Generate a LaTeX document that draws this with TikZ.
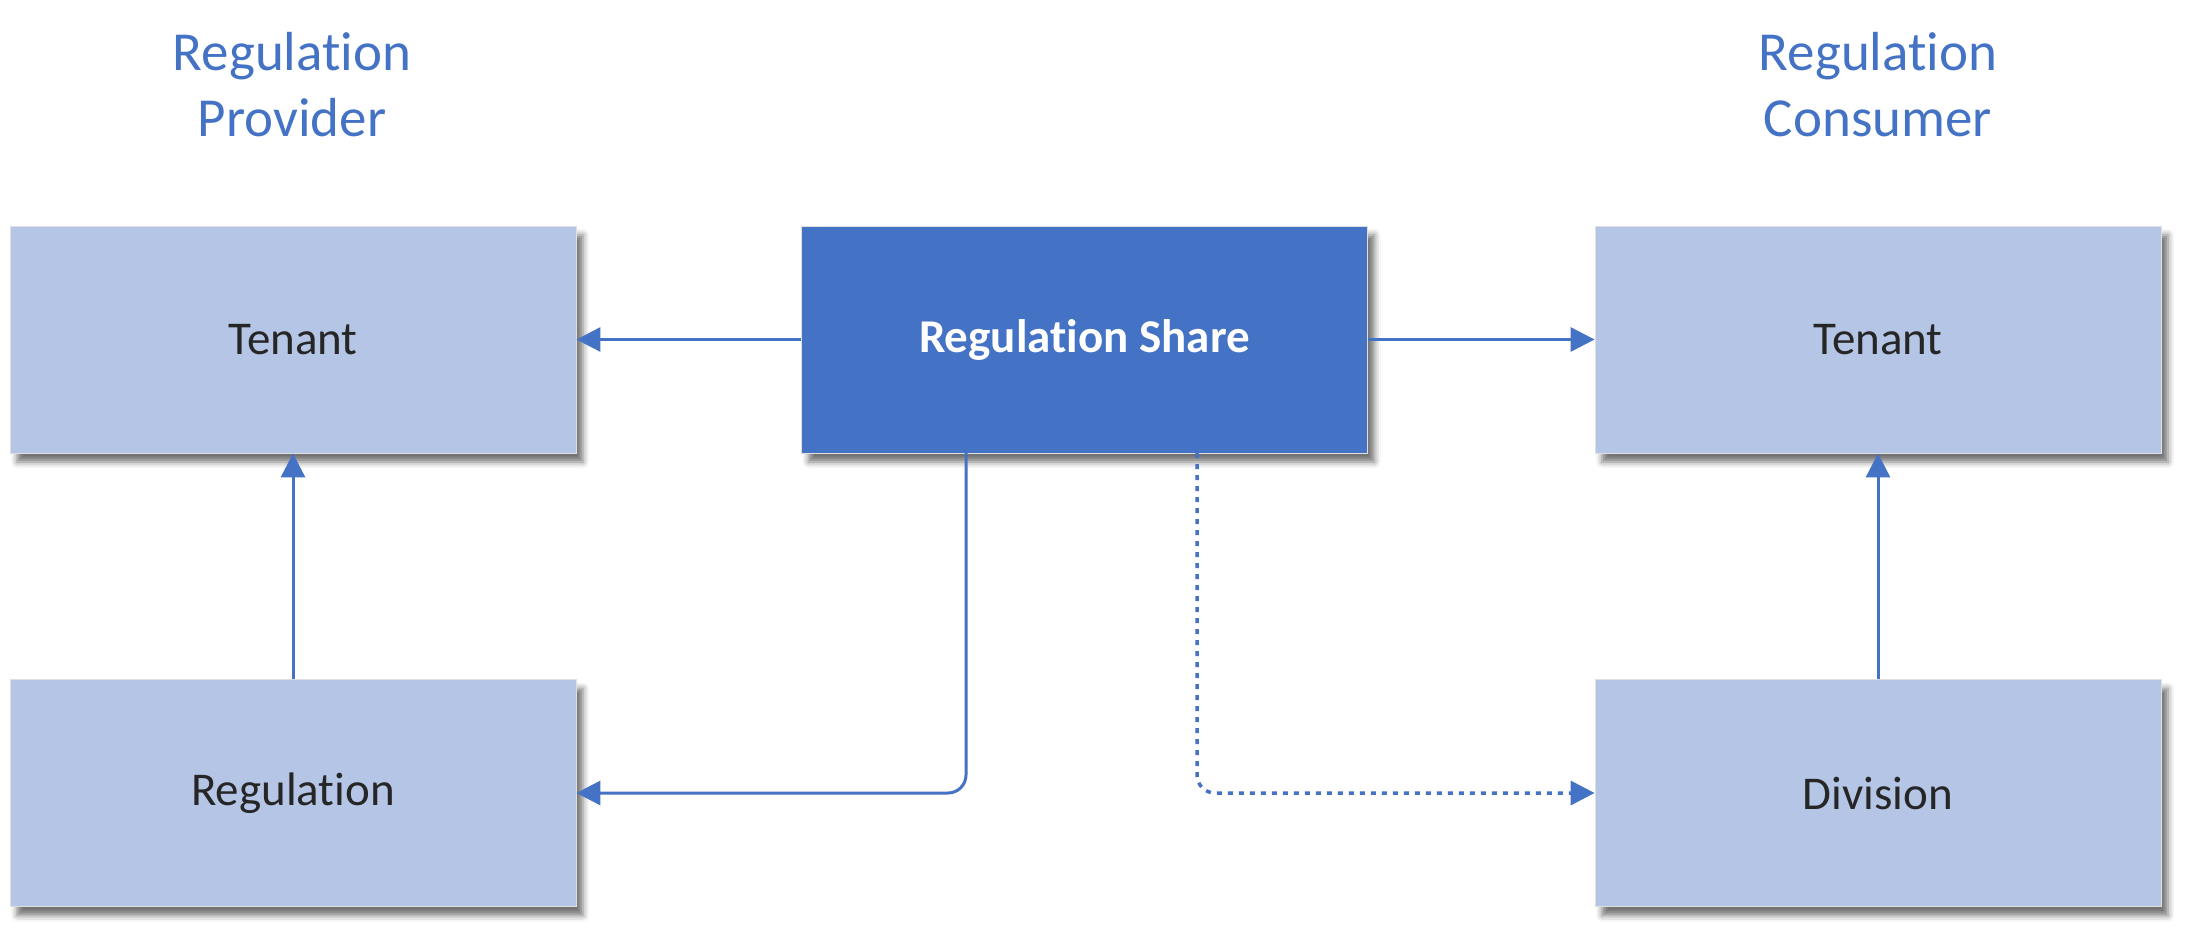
\documentclass[tikz,border=0pt]{standalone}
\usepackage{fontspec}
\setmainfont{Carlito}[Ligatures={NoCommon,NoDiscretionary,NoContextual}]
\usetikzlibrary{arrows.meta,shadows.blur}
\definecolor{mainblue}{HTML}{4472C4}
\definecolor{lightbox}{HTML}{B4C5E6}
\definecolor{boxtext}{HTML}{262626}
\tikzset{
  box/.style={rectangle, inner sep=0pt, minimum width=566pt, minimum height=227pt,
    fill=lightbox, draw=gray!25, line width=0.8pt, text=boxtext,
    font=\fontsize{47}{56}\selectfont,
    blur shadow={shadow xshift=7pt, shadow yshift=-9pt, shadow blur radius=6pt, shadow opacity=55}},
  darkbox/.style={box, fill=mainblue, text=white, font=\fontsize{47}{56}\selectfont\bfseries},
  title/.style={align=center, text=mainblue, font=\fontsize{55}{66}\selectfont},
  arr/.style={draw=mainblue, line width=3pt, -{Triangle[length=24pt,width=24pt]}},
  dotarr/.style={arr, line width=3.5pt, dash pattern=on 5pt off 6pt},
}
\begin{document}
\begin{tikzpicture}[x=1pt,y=-1pt]
\useasboundingbox (0,0) rectangle (2188,932);
\node[title] (tl) at (292,85) {Regulation\\Provider};
\node[title] (tr) at (1878,85) {Regulation\\Consumer};
\node[box] (ltenant) at (293,339.5) {Tenant};
\node[darkbox] (share) at (1084.5,339.5) {Regulation Share};
\node[box] (rtenant) at (1878,339.5) {Tenant};
\node[box] (reg) at (293,793) {Regulation};
\node[box] (div) at (1878,793) {Division};
\coordinate (c1) at (966,453);
\coordinate (c2) at (1197,453);
\draw[arr] (share.west) -- (ltenant.east);
\draw[arr] (share.east) -- (rtenant.west);
\draw[arr] (reg.north) -- (ltenant.south);
\draw[arr] (div.north) -- (rtenant.south);
\draw[arr, rounded corners=18pt] (c1) |- (reg.east);
\draw[dotarr, rounded corners=18pt] (c2) |- (div.west);
\end{tikzpicture}
\end{document}
